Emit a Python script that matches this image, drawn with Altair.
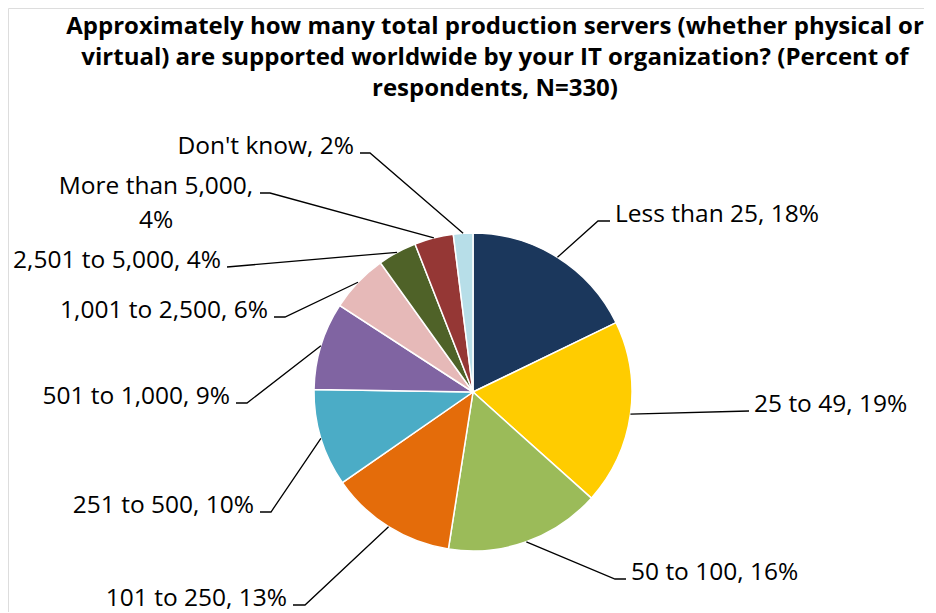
import math
import altair as alt
import pandas as pd

# ---- data ----
categories = ["Less than 25", "25 to 49", "50 to 100", "101 to 250", "251 to 500",
              "501 to 1,000", "1,001 to 2,500", "2,501 to 5,000", "More than 5,000", "Don't know"]
values = [18, 19, 16, 13, 10, 9, 6, 4, 4, 2]
label_texts = ["Less than 25, 18%", "25 to 49, 19%", "50 to 100, 16%", "101 to 250, 13%",
               "251 to 500, 10%", "501 to 1,000, 9%", "1,001 to 2,500, 6%", "2,501 to 5,000, 4%",
               "More than 5,000,\n4%", "Don't know, 2%"]
colors = ["#1B375C", "#FFCC00", "#9BBB59", "#E46C0A", "#4BACC6",
          "#8064A2", "#E6B9B8", "#4F6228", "#953735", "#B7DEE8"]
title_text = ("Approximately how many total production servers (whether physical or\n"
              "virtual) are supported worldwide by your IT organization? (Percent of\n"
              "respondents, N=330)")

# ---- layout (pixels in the chart area) ----
W, H = 916, 604
CX, CY, R = 465, 384, 159
elbows = [(590, 213), (741, 403), (607, 571), (297, 597), (263, 504),
          (239, 395), (277, 309), (219, 259), (262, 185), (362, 145)]
ends = [(602, 213), (741, 403), (618, 571), (285, 597), (252, 504),
        (228, 395), (266, 309), (219, 259), (252, 185), (352, 145)]
sides = ["right", "right", "right", "left", "left", "left", "left", "left", "center", "left"]
center_label_x = 148
FONT = "Open Sans"

total = sum(values)
pie = pd.DataFrame({"category": categories, "value": values,
                    "idx": list(range(len(values))), "cx": CX, "cy": CY})

line_rows, text_rows = [], []
cum = 0
for i, (c, v) in enumerate(zip(categories, values)):
    mid = (cum + v / 2) / total * 2 * math.pi
    cum += v
    ex, ey = CX + R * math.sin(mid), CY - R * math.cos(mid)
    for k, (px, py) in enumerate([(ex, ey), elbows[i], ends[i]]):
        line_rows.append({"category": c, "k": k, "x": px, "y": py})
    side = sides[i]
    if side == "right":
        tx = ends[i][0] + 5
    elif side == "left":
        tx = ends[i][0] - 6
    else:
        tx = center_label_x
    text_rows.append({"category": c, "label": label_texts[i], "side": side,
                      "x": tx, "y": ends[i][1] + 1})
lines = pd.DataFrame(line_rows)
texts = pd.DataFrame(text_rows)

xs = alt.Scale(domain=[0, W], nice=False, zero=False)
ys = alt.Scale(domain=[0, H], nice=False, zero=False, reverse=True)

arcs = alt.Chart(pie).mark_arc(radius=R, stroke="white", strokeWidth=1.5).encode(
    x=alt.X("cx:Q", scale=xs, axis=None),
    y=alt.Y("cy:Q", scale=ys, axis=None),
    theta=alt.Theta("value:Q", stack=True),
    order=alt.Order("idx:Q"),
    color=alt.Color("category:N", scale=alt.Scale(domain=categories, range=colors), legend=None),
)

leaders = alt.Chart(lines).mark_line(color="black", strokeWidth=1.3).encode(
    x=alt.X("x:Q", scale=xs, axis=None),
    y=alt.Y("y:Q", scale=ys, axis=None),
    detail="category:N",
    order="k:Q",
)

def text_layer(side, align):
    return alt.Chart(texts).transform_filter(alt.datum.side == side).mark_text(
        align=align, baseline="alphabetic", font=FONT, fontSize=24.5, color="black",
        lineBreak="\n", lineHeight=34,
    ).encode(
        x=alt.X("x:Q", scale=xs, axis=None),
        y=alt.Y("y:Q", scale=ys, axis=None),
        text="label:N",
    )

title_df = pd.DataFrame({"t": [title_text], "x": [487], "y": [26]})
title = alt.Chart(title_df).mark_text(
    align="center", baseline="alphabetic", font=FONT, fontSize=24, fontWeight="bold",
    color="black", lineBreak="\n", lineHeight=31,
).encode(
    x=alt.X("x:Q", scale=xs, axis=None),
    y=alt.Y("y:Q", scale=ys, axis=None),
    text="t:N",
)

chart = alt.layer(
    arcs, leaders, text_layer("right", "left"), text_layer("left", "right"),
    text_layer("center", "center"), title,
).properties(
    width=W, height=H, autosize=alt.AutoSizeParams(type="none"), padding=0,
).configure_view(stroke=None).configure(background="white")

chart.save("out.html", embed_options={"renderer": "svg", "actions": False})
